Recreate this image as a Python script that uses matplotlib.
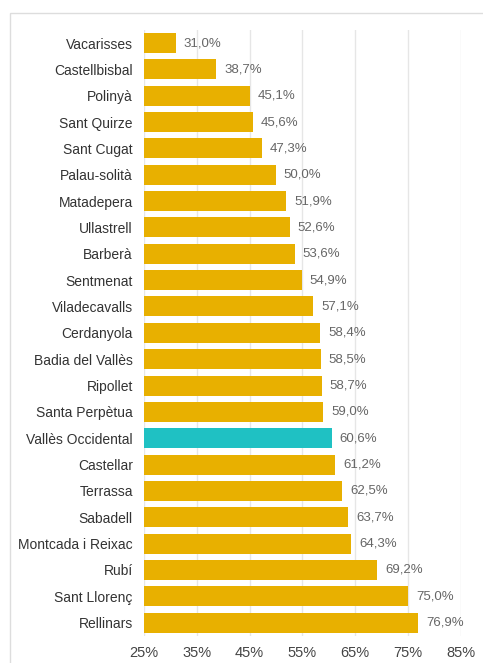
import matplotlib.pyplot as plt
from matplotlib.patches import Rectangle

plt.rcParams['font.family'] = ['Liberation Sans', 'DejaVu Sans']

municipis = ['Vacarisses', 'Castellbisbal', 'Polinyà', 'Sant Quirze', 'Sant Cugat',
             'Palau-solità', 'Matadepera', 'Ullastrell', 'Barberà', 'Sentmenat',
             'Viladecavalls', 'Cerdanyola', 'Badia del Vallès', 'Ripollet',
             'Santa Perpètua', 'Vallès Occidental', 'Castellar', 'Terrassa',
             'Sabadell', 'Montcada i Reixac', 'Rubí', 'Sant Llorenç', 'Rellinars']
valors = [31.0, 38.7, 45.1, 45.6, 47.3, 50.0, 51.9, 52.6, 53.6, 54.9, 57.1, 58.4,
          58.5, 58.7, 59.0, 60.6, 61.2, 62.5, 63.7, 64.3, 69.2, 75.0, 76.9]
ticks = [25, 35, 45, 55, 65, 75, 85]

gold = '#E8B000'
teal = '#1FC1C3'
colors = [teal if m == 'Vallès Occidental' else gold for m in municipis]

fig = plt.figure(figsize=(4.83, 6.63), dpi=100)
# marc gris clar (només visible a dalt i a l'esquerra)
fig.patches.append(Rectangle((10 / 483, -0.05), 1.0, 1.05 - 13 / 663,
                             transform=fig.transFigure, fill=False,
                             edgecolor='#DDDDDD', linewidth=1))
ax = fig.add_axes([0.298, 0.041, 0.656, 0.914])

y = range(len(municipis))
ax.barh(y, valors, height=0.76, color=colors, zorder=2)
for i, v in enumerate(valors):
    ax.text(v + 1.5, i, f'{v:.1f}%'.replace('.', ','), va='center', ha='left',
            fontsize=9.5, color='#666666')

ax.set_xlim(25, 85)
ax.set_ylim(len(municipis) - 0.5, -0.5)
ax.set_xticks(ticks)
ax.set_xticklabels([f'{t}%' for t in ticks], fontsize=10.5, color='#444444')
ax.set_yticks(list(y))
ax.set_yticklabels(municipis, fontsize=10, color='#333333')
ax.tick_params(length=0, pad=8)
ax.tick_params(axis='x', pad=7)
ax.grid(axis='x', color='#E6E6E6', linewidth=1, zorder=0)
for s in ax.spines.values():
    s.set_visible(False)

fig.savefig('out.png', dpi=100)
